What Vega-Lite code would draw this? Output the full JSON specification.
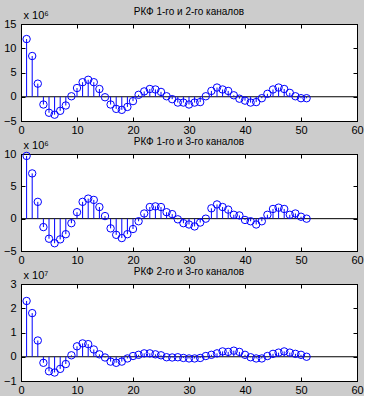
{
"$schema": "https://vega.github.io/schema/vega-lite/v6.json",
"background": "#cccccc",
"padding": {"left": 2, "top": 6, "right": 0, "bottom": 0},
"spacing": 0,
"config": {
  "view": {"stroke": "black", "strokeWidth": 1, "fill": "white"},
  "axis": {"domainColor": "black", "tickColor": "black", "labelColor": "black", "labelFont": "Liberation Sans", "labelFontSize": 11, "tickSize": -4, "labelPadding": 9, "labelFlush": false, "labelOverlap": false, "grid": false, "titleColor": "black", "titleFont": "Liberation Sans", "titleFontWeight": "normal", "titleFontSize": 11},
  "axisX": {"labelPadding": 7, "labelFlush": false},
  "axisY": {"labelFlush": false},
  "title": {"font": "Liberation Sans", "fontSize": 10, "fontWeight": "normal", "color": "black", "offset": -8}
},
"datasets": {
  "p1": [{"n":1,"v":11.9},{"n":2,"v":8.4},{"n":3,"v":2.7},{"n":4,"v":-1.6},{"n":5,"v":-3.3},{"n":6,"v":-3.7},{"n":7,"v":-2.9},{"n":8,"v":-1.8},{"n":9,"v":0.1},{"n":10,"v":1.8},{"n":11,"v":3.0},{"n":12,"v":3.5},{"n":13,"v":3.0},{"n":14,"v":1.6},{"n":15,"v":-0.1},{"n":16,"v":-1.6},{"n":17,"v":-2.5},{"n":18,"v":-2.7},{"n":19,"v":-2.1},{"n":20,"v":-0.9},{"n":21,"v":0.4},{"n":22,"v":1.1},{"n":23,"v":1.6},{"n":24,"v":1.5},{"n":25,"v":1.0},{"n":26,"v":0.1},{"n":27,"v":-0.5},{"n":28,"v":-1.2},{"n":29,"v":-1.2},{"n":30,"v":-1.6},{"n":31,"v":-1.2},{"n":32,"v":-1.1},{"n":33,"v":0.1},{"n":34,"v":1.2},{"n":35,"v":1.9},{"n":36,"v":1.5},{"n":37,"v":1.2},{"n":38,"v":0.3},{"n":39,"v":-0.4},{"n":40,"v":-0.8},{"n":41,"v":-1.2},{"n":42,"v":-1.1},{"n":43,"v":-0.3},{"n":44,"v":0.6},{"n":45,"v":1.5},{"n":46,"v":1.9},{"n":47,"v":1.6},{"n":48,"v":0.8},{"n":49,"v":0.1},{"n":50,"v":-0.3},{"n":51,"v":-0.3}],
  "p2": [{"n":1,"v":9.7},{"n":2,"v":7.0},{"n":3,"v":2.6},{"n":4,"v":-1.3},{"n":5,"v":-3.1},{"n":6,"v":-3.8},{"n":7,"v":-3.2},{"n":8,"v":-2.4},{"n":9,"v":-0.7},{"n":10,"v":1.0},{"n":11,"v":2.6},{"n":12,"v":3.1},{"n":13,"v":2.9},{"n":14,"v":1.8},{"n":15,"v":0.4},{"n":16,"v":-1.5},{"n":17,"v":-2.5},{"n":18,"v":-3.0},{"n":19,"v":-2.4},{"n":20,"v":-1.6},{"n":21,"v":-0.4},{"n":22,"v":0.8},{"n":23,"v":1.8},{"n":24,"v":1.9},{"n":25,"v":1.8},{"n":26,"v":1.0},{"n":27,"v":0.7},{"n":28,"v":-0.1},{"n":29,"v":-0.7},{"n":30,"v":-0.9},{"n":31,"v":-1.2},{"n":32,"v":-0.6},{"n":33,"v":0.0},{"n":34,"v":1.6},{"n":35,"v":2.2},{"n":36,"v":1.8},{"n":37,"v":1.4},{"n":38,"v":0.6},{"n":39,"v":0.5},{"n":40,"v":-0.2},{"n":41,"v":-0.4},{"n":42,"v":-0.9},{"n":43,"v":-0.4},{"n":44,"v":0.6},{"n":45,"v":1.5},{"n":46,"v":1.7},{"n":47,"v":1.5},{"n":48,"v":0.6},{"n":49,"v":0.8},{"n":50,"v":0.3},{"n":51,"v":0.0}],
  "p3": [{"n":1,"v":2.3},{"n":2,"v":1.8},{"n":3,"v":0.67},{"n":4,"v":-0.25},{"n":5,"v":-0.6},{"n":6,"v":-0.65},{"n":7,"v":-0.5},{"n":8,"v":-0.3},{"n":9,"v":0.06},{"n":10,"v":0.43},{"n":11,"v":0.55},{"n":12,"v":0.52},{"n":13,"v":0.3},{"n":14,"v":0.1},{"n":15,"v":-0.03},{"n":16,"v":-0.2},{"n":17,"v":-0.25},{"n":18,"v":-0.2},{"n":19,"v":-0.07},{"n":20,"v":0.03},{"n":21,"v":0.08},{"n":22,"v":0.14},{"n":23,"v":0.14},{"n":24,"v":0.1},{"n":25,"v":0.06},{"n":26,"v":-0.02},{"n":27,"v":-0.03},{"n":28,"v":-0.02},{"n":29,"v":-0.05},{"n":30,"v":-0.07},{"n":31,"v":-0.07},{"n":32,"v":-0.05},{"n":33,"v":0.03},{"n":34,"v":0.08},{"n":35,"v":0.14},{"n":36,"v":0.22},{"n":37,"v":0.2},{"n":38,"v":0.25},{"n":39,"v":0.2},{"n":40,"v":0.08},{"n":41,"v":-0.02},{"n":42,"v":-0.07},{"n":43,"v":-0.07},{"n":44,"v":0.03},{"n":45,"v":0.12},{"n":46,"v":0.17},{"n":47,"v":0.22},{"n":48,"v":0.17},{"n":49,"v":0.12},{"n":50,"v":0.08},{"n":51,"v":0.0}]
},
"vconcat": [
 {
  "width": 336, "height": 97,
  "title": "РКФ 1-го и 2-го каналов",
  "layer": [
   {"data": {"values": [{}]}, "mark": {"type": "rule", "color": "black"},
    "encoding": {
     "x": {"datum": 0, "type": "quantitative", "scale": {"domain": [0, 60], "nice": false}, "axis": {"orient": "top", "labels": false, "title": null, "values": [0,10,20,30,40,50,60]}},
     "x2": {"datum": 60},
     "y": {"datum": 0, "type": "quantitative", "scale": {"domain": [-5, 15], "nice": false, "zero": false}, "axis": {"orient": "right", "labels": false, "title": null, "values": [-5,0,5,10,15]}}}},
   {"data": {"name": "p1"}, "mark": {"type": "rule", "color": "#0000ff"},
    "encoding": {
     "x": {"field": "n", "type": "quantitative", "axis": {"orient": "bottom", "title": null, "values": [0,10,20,30,40,50,60]}},
     "y": {"field": "v", "type": "quantitative", "axis": {"orient": "left", "title": "x 10⁶", "titleAngle": 0, "titleAlign": "left", "titleBaseline": "alphabetic", "titleX": 2, "titleY": -6, "values": [-5,0,5,10,15]}},
     "y2": {"datum": 0}}},
   {"data": {"name": "p1"}, "mark": {"type": "point", "shape": "circle", "filled": false, "color": "#0000ff", "size": 55, "strokeWidth": 1, "opacity": 1},
    "encoding": {
     "x": {"field": "n", "type": "quantitative", "axis": null},
     "y": {"field": "v", "type": "quantitative", "axis": null}}}
  ],
  "resolve": {"axis": {"x": "independent", "y": "independent"}}
 },
 {
  "width": 336, "height": 97,
  "title": "РКФ 1-го и 3-го каналов",
  "layer": [
   {"data": {"values": [{}]}, "mark": {"type": "rule", "color": "black"},
    "encoding": {
     "x": {"datum": 0, "type": "quantitative", "scale": {"domain": [0, 60], "nice": false}, "axis": {"orient": "top", "labels": false, "title": null, "values": [0,10,20,30,40,50,60]}},
     "x2": {"datum": 60},
     "y": {"datum": 0, "type": "quantitative", "scale": {"domain": [-5, 10], "nice": false, "zero": false}, "axis": {"orient": "right", "labels": false, "title": null, "values": [-5,0,5,10]}}}},
   {"data": {"name": "p2"}, "mark": {"type": "rule", "color": "#0000ff"},
    "encoding": {
     "x": {"field": "n", "type": "quantitative", "axis": {"orient": "bottom", "title": null, "values": [0,10,20,30,40,50,60]}},
     "y": {"field": "v", "type": "quantitative", "axis": {"orient": "left", "title": "x 10⁶", "titleAngle": 0, "titleAlign": "left", "titleBaseline": "alphabetic", "titleX": 2, "titleY": -6, "values": [-5,0,5,10]}},
     "y2": {"datum": 0}}},
   {"data": {"name": "p2"}, "mark": {"type": "point", "shape": "circle", "filled": false, "color": "#0000ff", "size": 55, "strokeWidth": 1, "opacity": 1},
    "encoding": {
     "x": {"field": "n", "type": "quantitative", "axis": null},
     "y": {"field": "v", "type": "quantitative", "axis": null}}}
  ],
  "resolve": {"axis": {"x": "independent", "y": "independent"}}
 },
 {
  "width": 336, "height": 97,
  "title": "РКФ 2-го и 3-го каналов",
  "layer": [
   {"data": {"values": [{}]}, "mark": {"type": "rule", "color": "black"},
    "encoding": {
     "x": {"datum": 0, "type": "quantitative", "scale": {"domain": [0, 60], "nice": false}, "axis": {"orient": "top", "labels": false, "title": null, "values": [0,10,20,30,40,50,60]}},
     "x2": {"datum": 60},
     "y": {"datum": 0, "type": "quantitative", "scale": {"domain": [-1, 3], "nice": false, "zero": false}, "axis": {"orient": "right", "labels": false, "title": null, "values": [-1,0,1,2,3]}}}},
   {"data": {"name": "p3"}, "mark": {"type": "rule", "color": "#0000ff"},
    "encoding": {
     "x": {"field": "n", "type": "quantitative", "axis": {"orient": "bottom", "title": null, "values": [0,10,20,30,40,50,60]}},
     "y": {"field": "v", "type": "quantitative", "axis": {"orient": "left", "title": "x 10⁷", "titleAngle": 0, "titleAlign": "left", "titleBaseline": "alphabetic", "titleX": 2, "titleY": -6, "values": [-1,0,1,2,3]}},
     "y2": {"datum": 0}}},
   {"data": {"name": "p3"}, "mark": {"type": "point", "shape": "circle", "filled": false, "color": "#0000ff", "size": 55, "strokeWidth": 1, "opacity": 1},
    "encoding": {
     "x": {"field": "n", "type": "quantitative", "axis": null},
     "y": {"field": "v", "type": "quantitative", "axis": null}}}
  ],
  "resolve": {"axis": {"x": "independent", "y": "independent"}}
 }
]
}
